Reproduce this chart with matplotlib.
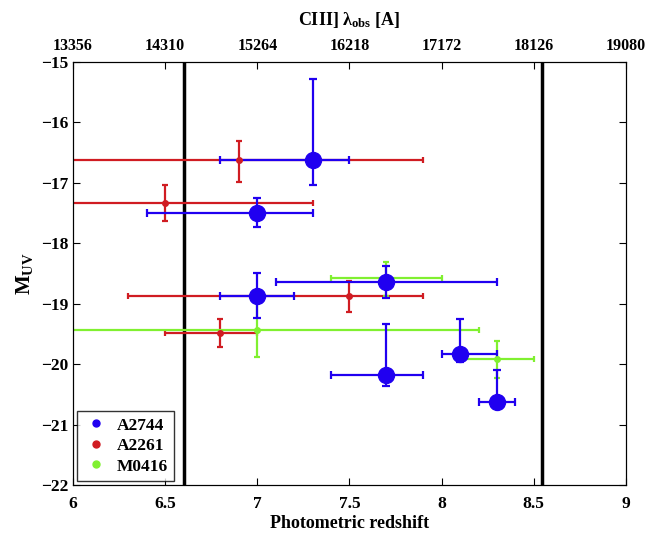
import numpy as np
import matplotlib.pyplot as plt
from matplotlib.lines import Line2D

plt.rcParams['font.family'] = ['Liberation Serif', 'DejaVu Serif']
plt.rcParams['font.weight'] = 'bold'
plt.rcParams['mathtext.fontset'] = 'custom'
plt.rcParams['mathtext.rm'] = 'Liberation Serif:bold'
plt.rcParams['mathtext.it'] = 'Liberation Serif:bold'
plt.rcParams['mathtext.bf'] = 'Liberation Serif:bold'

# A2744
a2744_z = [7.3, 7.0, 7.0, 7.7, 7.7, 8.1, 8.3]
a2744_m = [-16.62, -17.50, -18.87, -18.64, -20.18, -19.84, -20.63]
a2744_zlo = [6.8, 6.4, 6.8, 7.1, 7.4, 8.0, 8.2]
a2744_zhi = [7.5, 7.3, 7.2, 8.3, 7.9, 8.3, 8.4]
a2744_mlo = [-17.03, -17.73, -19.23, -18.91, -20.36, -19.97, -20.70]
a2744_mhi = [-15.28, -17.25, -18.49, -18.38, -19.33, -19.26, -20.09]

# A2261
a2261_z = [6.9, 6.5, 7.5, 6.8]
a2261_m = [-16.63, -17.33, -18.87, -19.49]
a2261_zlo = [5.9, 5.7, 6.3, 6.5]
a2261_zhi = [7.9, 7.3, 7.9, 7.0]
a2261_mlo = [-16.98, -17.64, -19.13, -19.71]
a2261_mhi = [-16.30, -17.03, -18.62, -19.25]

# M0416
m0416_z = [7.0, 7.7, 8.3]
m0416_m = [-19.44, -18.58, -19.92]
m0416_zlo = [5.8, 7.4, 8.1]
m0416_zhi = [8.2, 8.0, 8.5]
m0416_mlo = [-19.89, -18.87, -20.23]
m0416_mhi = [-18.99, -18.31, -19.61]

z_lines = [6.6, 8.545]
z_ticks = [6, 6.5, 7, 7.5, 8, 8.5, 9]
lam_rest = 1908

blue = '#2000f0'
red = '#d01c22'
green = '#80f030'


def plot_set(ax, z, m, zlo, zhi, mlo, mhi, color, ms, cap):
    z = np.array(z)
    m = np.array(m)
    xerr = [z - np.array(zlo), np.array(zhi) - z]
    yerr = [m - np.array(mlo), np.array(mhi) - m]
    ax.errorbar(z, m, xerr=xerr, yerr=yerr, fmt='o', color=color,
                markersize=ms, elinewidth=1.6, capsize=cap, capthick=1.6)


fig = plt.figure(figsize=(6.49, 5.35), dpi=100)
ax = fig.add_axes([0.1125, 0.0935, 0.852, 0.7907])

for zl in z_lines:
    ax.axvline(zl, color='black', linewidth=2.5)

plot_set(ax, a2261_z, a2261_m, a2261_zlo, a2261_zhi, a2261_mlo, a2261_mhi, red, 4, 2.5)
plot_set(ax, m0416_z, m0416_m, m0416_zlo, m0416_zhi, m0416_mlo, m0416_mhi, green, 4, 2.5)
plot_set(ax, a2744_z, a2744_m, a2744_zlo, a2744_zhi, a2744_mlo, a2744_mhi, blue, 11.5, 3)

ax.set_xlim(6, 9)
ax.set_ylim(-22, -15)
ax.set_xticks(z_ticks)
ax.set_xticklabels(['6', '6.5', '7', '7.5', '8', '8.5', '9'])
ax.set_yticks(np.arange(-22, -14, 1))
ax.set_yticklabels(['\u221222', '\u221221', '\u221220', '\u221219', '\u221218',
                    '\u221217', '\u221216', '\u221215'])
ax.tick_params(direction='in', labelsize=12.5, right=True, length=5, width=0.8)
ax.tick_params(axis='x', pad=8)
ax.set_xlabel('Photometric redshift', fontsize=13, fontweight='bold', labelpad=2)
ax.set_ylabel(r'M$_{\mathrm{UV}}$', fontsize=15, fontweight='bold')

ax2 = ax.twiny()
ax2.set_xlim(ax.get_xlim())
ax2.set_xticks(z_ticks)
ax2.set_xticklabels([str(int(round(lam_rest * (1 + z)))) for z in z_ticks])
ax2.tick_params(direction='in', labelsize=11.5, length=5, width=0.8, pad=6)
ax2.set_xlabel(r'CIII] $\lambda_{\mathrm{obs}}$ [A]', fontsize=13,
               fontweight='bold', labelpad=9)

handles = [Line2D([], [], marker='o', linestyle='none', color=c, markersize=5)
           for c in [blue, red, green]]
leg = ax.legend(handles, ['A2744', 'A2261', 'M0416'], loc='lower left',
                fontsize=12.5, frameon=True, fancybox=False, edgecolor='black',
                handletextpad=0.5, borderpad=0.35, labelspacing=0.25,
                borderaxespad=0.25, handlelength=1.4)
leg.get_frame().set_linewidth(1.0)

plt.savefig('out.png', dpi=100)
